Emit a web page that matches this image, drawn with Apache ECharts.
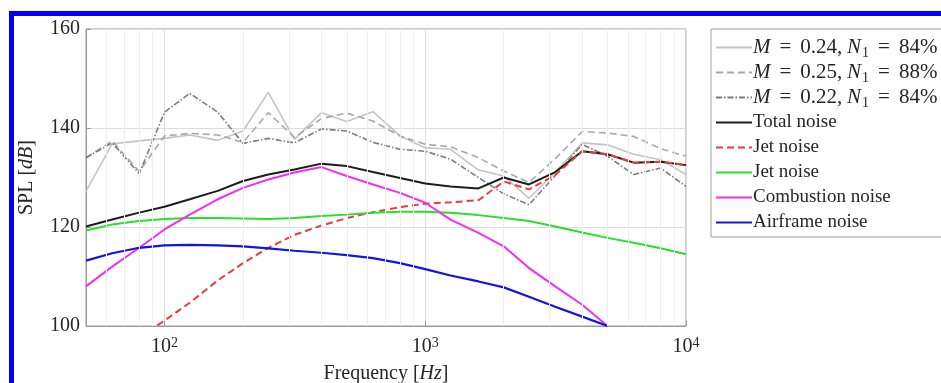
<!DOCTYPE html>
<html>
<head>
  <meta charset="UTF-8">
  <title>SPL spectrum</title>
  <script src="https://cdn.jsdelivr.net/npm/echarts@6/dist/echarts.min.js"></script>
  <style>
    body { margin: 0; padding: 0; background: #fff; }
    #chart { width: 941px; height: 383px; }
    .frame {
      position: absolute; left: 9px; top: 11px; width: 960px; height: 400px;
      border-left: 5px solid #0000ff; border-top: 5px solid #0000ff;
      pointer-events: none;
    }
  </style>
</head>
<body>
  <div id="chart"></div>
  <div class="frame"></div>
  <script>
    // third-octave band centre frequencies
    var freqs = [50, 63, 80, 100, 125, 160, 200, 250, 315, 400, 500, 630, 800,
      1000, 1250, 1600, 2000, 2500, 3150, 4000, 5000, 6300, 8000, 10000];

    // measured spectra
    var m024 = [127.2, 136.8, 137.4, 137.9, 138.6, 137.5, 139.4, 147.2, 137.7, 143.1, 141.3, 143.3, 138.4,
      136.0, 135.7, 131.5, 130.3, 125.8, 131.0, 137.0, 136.6, 134.7, 133.6, 130.6];
    var m025 = [134.0, 137.4, 131.2, 138.4, 138.9, 138.6, 137.1, 143.1, 138.1, 141.9, 143.0, 141.4, 138.4,
      136.7, 136.2, 134.0, 131.3, 129.0, 133.8, 139.3, 139.0, 138.3, 135.8, 134.3];
    var m022 = [134.0, 137.0, 130.8, 143.2, 147.0, 143.2, 136.9, 137.9, 137.0, 139.8, 139.4, 137.1, 135.7,
      135.3, 133.7, 130.0, 126.7, 124.5, 130.4, 136.7, 134.3, 130.6, 131.9, 128.2];

    // predicted components
    var totalNoise = [120.1, 121.5, 122.9, 124.1, 125.6, 127.3, 129.3, 130.6, 131.6, 132.8, 132.3, 131.1, 129.9,
      128.8, 128.2, 127.8, 130.0, 128.6, 131.1, 135.3, 134.7, 133.0, 133.2, 132.5];
    var jetNoiseDash = [null, null, 97.6, 101.1, 104.7, 109.2, 112.7, 115.8, 118.4, 120.3, 121.8, 123.0, 124.0,
      124.7, 125.0, 125.4, 129.2, 127.6, 130.5, 135.3, 134.7, 133.0, 133.2, 132.5];
    var jetNoise = [119.3, 120.5, 121.2, 121.6, 121.8, 121.8, 121.7, 121.6, 121.8, 122.2, 122.5, 122.9, 123.1,
      123.1, 122.9, 122.4, 121.8, 121.2, 120.1, 118.9, 117.8, 116.8, 115.7, 114.5];
    var combustionNoise = [108.0, 112.0, 115.8, 119.5, 122.5, 125.6, 127.9, 129.6, 131.0, 132.1, 130.3, 128.6, 126.9,
      124.9, 121.5, 118.8, 116.1, 111.7, 108.0, 104.3, 100.0, null, null, null];
    var airframeNoise = [113.2, 114.7, 115.8, 116.3, 116.4, 116.3, 116.1, 115.7, 115.2, 114.8, 114.3, 113.7, 112.7,
      111.5, 110.2, 109.0, 107.8, 105.9, 103.9, 101.9, 100.0, null, null, null];

    // minor grid positions (log axis)
    var minorGrid = [60, 70, 80, 90, 200, 300, 400, 500, 600, 700, 800, 900,
      2000, 3000, 4000, 5000, 6000, 7000, 8000, 9000];

    var legendText = {
      s1: '{i|M}{eq|=}{m|0.24,} {i|N}{sub|1}{eq|=}{m|84%}',
      s2: '{i|M}{eq|=}{m|0.25,} {i|N}{sub|1}{eq|=}{m|88%}',
      s3: '{i|M}{eq|=}{m|0.22,} {i|N}{sub|1}{eq|=}{m|84%}',
      s4: 'Total noise',
      s5: 'Jet noise',
      s6: 'Jet noise',
      s7: 'Combustion noise',
      s8: 'Airframe noise'
    };

    var font = 'Liberation Serif';
    var ink = '#262626';

    function pairs(vals) {
      return freqs.map(function (f, i) { return [f, vals[i]]; });
    }

    function line(name, vals, color, width, type) {
      return {
        name: name,
        type: 'line',
        data: pairs(vals),
        symbol: 'none',
        connectNulls: false,
        lineStyle: { color: color, width: width, type: type || 'solid' },
        itemStyle: { color: color },
        emphasis: { disabled: true },
        z: 3
      };
    }

    var chart = echarts.init(document.getElementById('chart'));

    chart.setOption({
      animation: false,
      backgroundColor: '#fff',
      textStyle: { fontFamily: font },
      grid: {
        left: 86, right: 255, top: 29, bottom: 57,
        outerBoundsMode: 'none',
        containLabel: false,
        show: true, borderColor: '#9a9a9a', borderWidth: 1
      },
      xAxis: {
        type: 'log',
        logBase: 10,
        min: 50,
        max: 10000,
        name: 'Frequency [{i|Hz}]',
        nameLocation: 'middle',
        nameGap: 38,
        nameTextStyle: {
          fontFamily: font, fontSize: 20, color: ink,
          rich: { i: { fontFamily: font, fontSize: 20, fontStyle: 'italic', color: ink } }
        },
        axisLine: { lineStyle: { color: '#9a9a9a' } },
        axisTick: { inside: true, length: 5, lineStyle: { color: '#9a9a9a' } },
        splitLine: { show: true, lineStyle: { color: '#dcdcdc', width: 1 } },
        axisLabel: {
          margin: 10,
          showMinLabel: false,
          color: ink,
          formatter: function (v) {
            var e = Math.round(Math.log10(v));
            if (Math.abs(Math.pow(10, e) - v) > 1e-6) return '';
            return '{b|10}{s|' + e + '}';
          },
          rich: {
            b: { fontFamily: font, fontSize: 20, lineHeight: 22, color: ink },
            s: { fontFamily: font, fontSize: 14, lineHeight: 22, verticalAlign: 'top', color: ink }
          }
        }
      },
      yAxis: {
        type: 'value',
        min: 100,
        max: 160,
        interval: 20,
        name: 'SPL [{i|dB}]',
        nameLocation: 'middle',
        nameGap: 49,
        nameRotate: 90,
        nameTextStyle: {
          fontFamily: font, fontSize: 20, color: ink,
          rich: { i: { fontFamily: font, fontSize: 20, fontStyle: 'italic', color: ink } }
        },
        axisLine: { show: true, lineStyle: { color: '#9a9a9a' } },
        axisTick: { show: true, inside: true, length: 5, lineStyle: { color: '#9a9a9a' } },
        splitLine: { show: true, lineStyle: { color: '#dcdcdc', width: 1 } },
        axisLabel: { margin: 6, fontFamily: font, fontSize: 20, color: ink }
      },
      legend: {
        orient: 'vertical',
        left: 711,
        top: 29,
        padding: [6, 200, 2, 4],
        itemWidth: 36,
        itemHeight: 14,
        itemGap: 0,
        itemStyle: { opacity: 0 },
        backgroundColor: '#fff',
        borderColor: '#a0a0a0',
        borderWidth: 1,
        data: ['s1', 's2', 's3', 's4', 's5', 's6', 's7', 's8'],
        formatter: function (name) { return legendText[name]; },
        textStyle: {
          fontFamily: font, fontSize: 19, lineHeight: 25, color: ink, padding: [0, 0, 0, -4],
          rich: {
            i: { fontFamily: font, fontSize: 21, lineHeight: 25, fontStyle: 'italic', color: ink },
            m: { fontFamily: font, fontSize: 21, lineHeight: 25, color: ink },
            eq: { fontFamily: font, fontSize: 21, lineHeight: 25, padding: [0, 9, 0, 9], color: ink },
            sub: { fontFamily: font, fontSize: 14, lineHeight: 25, verticalAlign: 'bottom', padding: [0, 0, 0, 1], color: ink }
          }
        }
      },
      series: [
        {
          name: 'grid',
          type: 'line',
          data: [],
          silent: true,
          z: 1,
          markLine: {
            silent: true,
            symbol: 'none',
            label: { show: false },
            lineStyle: { color: '#eeeeee', width: 1, type: 'solid' },
            data: minorGrid.map(function (f) { return { xAxis: f }; })
          }
        },
        line('s1', m024, '#c4c4c4', 1.6),
        line('s2', m025, '#a8a8a8', 1.6, [7, 4]),
        line('s3', m022, '#7c7c7c', 1.6, [6, 2, 1.5, 2]),
        line('s4', totalNoise, '#1c1c1c', 2),
        line('s5', jetNoiseDash, '#f03a3a', 2, [7, 4]),
        line('s6', jetNoise, '#28e028', 2),
        line('s7', combustionNoise, '#f22ef2', 2),
        line('s8', airframeNoise, '#1414e0', 2.2)
      ]
    });
  </script>
</body>
</html>
